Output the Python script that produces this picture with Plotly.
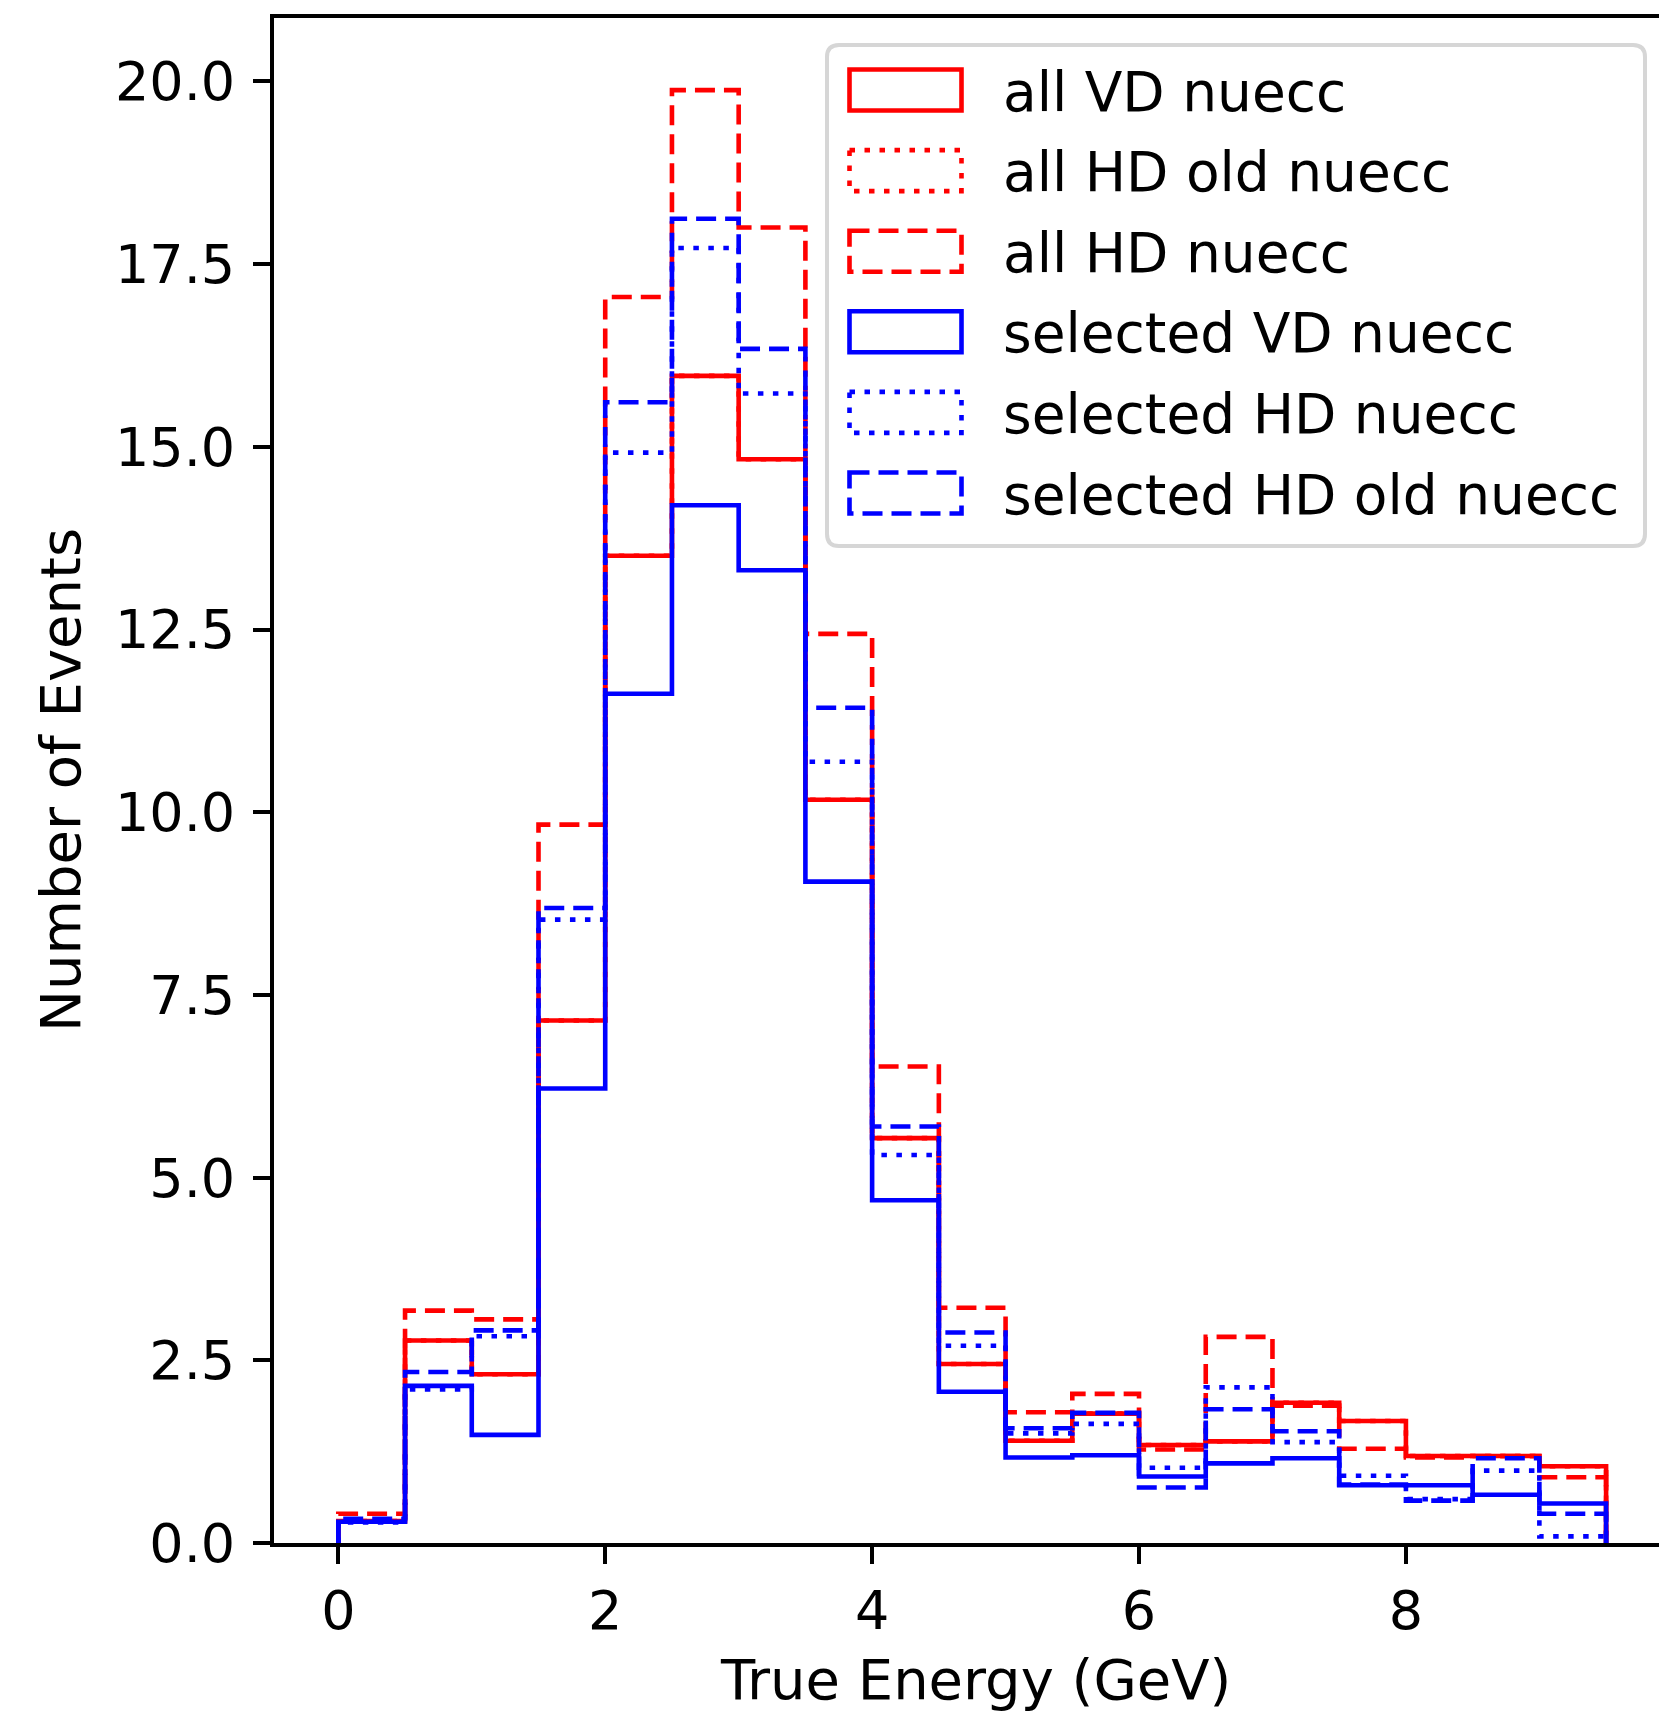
import plotly.graph_objects as go

# ---------------- data ----------------
bin_edges = [0.0, 0.5, 1.0, 1.5, 2.0, 2.5, 3.0, 3.5, 4.0, 4.5, 5.0,
             5.5, 6.0, 6.5, 7.0, 7.5, 8.0, 8.5, 9.0, 9.5]

all_vd = [0.30, 2.77, 2.31, 7.15, 13.51, 15.97, 14.83, 10.17, 5.54, 2.45,
          1.40, 1.77, 1.34, 1.39, 1.92, 1.67, 1.19, 1.19, 1.05]
all_hd_old = [0.30, 2.77, 2.31, 7.15, 13.51, 15.97, 14.83, 10.17, 5.54, 2.45,
              1.40, 1.77, 1.34, 1.39, 1.92, 1.67, 1.19, 1.19, 1.05]
all_hd = [0.40, 3.18, 3.06, 9.83, 17.05, 19.88, 18.00, 12.44, 6.52, 3.22,
          1.79, 2.04, 1.28, 2.82, 1.88, 1.29, 1.17, 1.19, 0.90]
sel_vd = [0.29, 2.15, 1.48, 6.22, 11.62, 14.20, 13.31, 9.05, 4.69, 2.07,
          1.17, 1.20, 0.91, 1.09, 1.16, 0.79, 0.79, 0.66, 0.54]
sel_hd = [0.28, 2.10, 2.83, 8.53, 14.92, 17.72, 15.73, 10.69, 5.31, 2.70,
          1.50, 1.63, 1.03, 2.13, 1.38, 0.92, 0.60, 0.99, 0.09]
sel_hd_old = [0.33, 2.34, 2.91, 8.69, 15.61, 18.12, 16.34, 11.43, 5.70, 2.88,
              1.57, 1.78, 0.76, 1.83, 1.53, 0.80, 0.58, 1.16, 0.40]

series_names = ["all VD nuecc", "all HD old nuecc", "all HD nuecc",
                "selected VD nuecc", "selected HD nuecc", "selected HD old nuecc"]
series_values = [all_vd, all_hd_old, all_hd, sel_vd, sel_hd, sel_hd_old]
series_colors = ["#ff0000", "#ff0000", "#ff0000", "#0000ff", "#0000ff", "#0000ff"]

y_ticks = [0.0, 2.5, 5.0, 7.5, 10.0, 12.5, 15.0, 17.5, 20.0]
x_ticks = [0, 2, 4, 6, 8]

# ---------------- styling ----------------
SOLID = "solid"
DASHED = "20px,9px"
DOTTED = "5.5px,9.5px"
series_dash = [SOLID, DOTTED, DASHED, SOLID, DOTTED, DASHED]
LW = 4.6
FONT = "DejaVu Sans"
FS_LEG = 55
FS_TITLE = 56

W, H = 1659, 1711
L, T, B, R = 274, 18, 168, 0
PW = W - L - R
PH = H - T - B


def px_x(X):
    return (X - L) / PW


def px_y(Y):
    return 1 - (Y - T) / PH


fig = go.Figure()

bin_width = bin_edges[1] - bin_edges[0]
right_edge = bin_edges[-1] + bin_width
for name, vals, col, dash in zip(series_names, series_values, series_colors, series_dash):
    xs = [bin_edges[0]] + list(bin_edges) + [right_edge]
    ys = [0.0] + list(vals) + [0.0]
    fig.add_trace(go.Scatter(
        x=xs, y=ys, mode="lines", name=name,
        line=dict(color=col, width=LW, dash=dash, shape="hv"),
        showlegend=False, hoverinfo="skip",
    ))

# ---------------- manual legend (matplotlib-style) ----------------
shapes = []
annotations = []
bx0, by0, bx1, by1, rad = 827, 45, 1645, 546, 12
path = (
    f"M {px_x(bx0 + rad)},{px_y(by0)} L {px_x(bx1 - rad)},{px_y(by0)} "
    f"Q {px_x(bx1)},{px_y(by0)} {px_x(bx1)},{px_y(by0 + rad)} "
    f"L {px_x(bx1)},{px_y(by1 - rad)} "
    f"Q {px_x(bx1)},{px_y(by1)} {px_x(bx1 - rad)},{px_y(by1)} "
    f"L {px_x(bx0 + rad)},{px_y(by1)} "
    f"Q {px_x(bx0)},{px_y(by1)} {px_x(bx0)},{px_y(by1 - rad)} "
    f"L {px_x(bx0)},{px_y(by0 + rad)} "
    f"Q {px_x(bx0)},{px_y(by0)} {px_x(bx0 + rad)},{px_y(by0)} Z"
)
shapes.append(dict(type="path", path=path, xref="paper", yref="paper",
                   line=dict(color="#d6d6d6", width=4), fillcolor="white",
                   layer="above"))

row0, row_step = 90.0, 80.6
hx0, hx1, hh = 849.5, 961.5, 20.5
tx = 1001
for i, (name, col, dash) in enumerate(zip(series_names, series_colors, series_dash)):
    cy = row0 + i * row_step
    shapes.append(dict(type="rect", xref="paper", yref="paper",
                       x0=px_x(hx0), x1=px_x(hx1), y0=px_y(cy - hh), y1=px_y(cy + hh),
                       line=dict(color=col, width=LW, dash=dash),
                       fillcolor="rgba(0,0,0,0)", layer="above"))
    annotations.append(dict(text=name, xref="paper", yref="paper",
                            x=px_x(tx), y=px_y(cy + 1.5), xanchor="left", yanchor="middle",
                            showarrow=False, font=dict(family=FONT, size=FS_LEG, color="black")))

# axis titles
annotations.append(dict(text="True Energy (GeV)", xref="paper", yref="paper",
                        x=px_x(975), y=px_y(1679), xanchor="center", yanchor="middle",
                        showarrow=False, font=dict(family=FONT, size=FS_TITLE, color="black")))
annotations.append(dict(text="Number of Events", xref="paper", yref="paper",
                        x=px_x(61), y=px_y(780), xanchor="center", yanchor="middle",
                        textangle=-90, showarrow=False,
                        font=dict(family=FONT, size=FS_TITLE, color="black")))

fig.update_layout(
    width=W, height=H,
    margin=dict(l=L, r=R, t=T, b=B, pad=0),
    paper_bgcolor="white", plot_bgcolor="white",
    showlegend=False,
    shapes=shapes, annotations=annotations,
    font=dict(family=FONT, size=FS_LEG, color="black"),
)
fig.update_xaxes(
    range=[-0.482, -0.482 + PW / 133.45],
    tickvals=x_ticks, ticktext=[str(v) for v in x_ticks],
    ticks="outside", ticklen=17, tickwidth=4, tickcolor="black",
    showline=True, linewidth=4, linecolor="black", mirror=True,
    showgrid=False, zeroline=False,
    tickfont=dict(family=FONT, size=54, color="black"),
    ticklabelstandoff=0,
)
fig.update_yaxes(
    range=[0, PH / 73.08],
    tickvals=y_ticks, ticktext=[f"{v:.1f}" for v in y_ticks],
    ticks="outside", ticklen=17, tickwidth=4, tickcolor="black",
    showline=True, linewidth=4, linecolor="black", mirror=False,
    showgrid=False, zeroline=False,
    tickfont=dict(family=FONT, size=54, color="black"),
    ticklabelstandoff=7,
)

fig.write_html("out.html")
